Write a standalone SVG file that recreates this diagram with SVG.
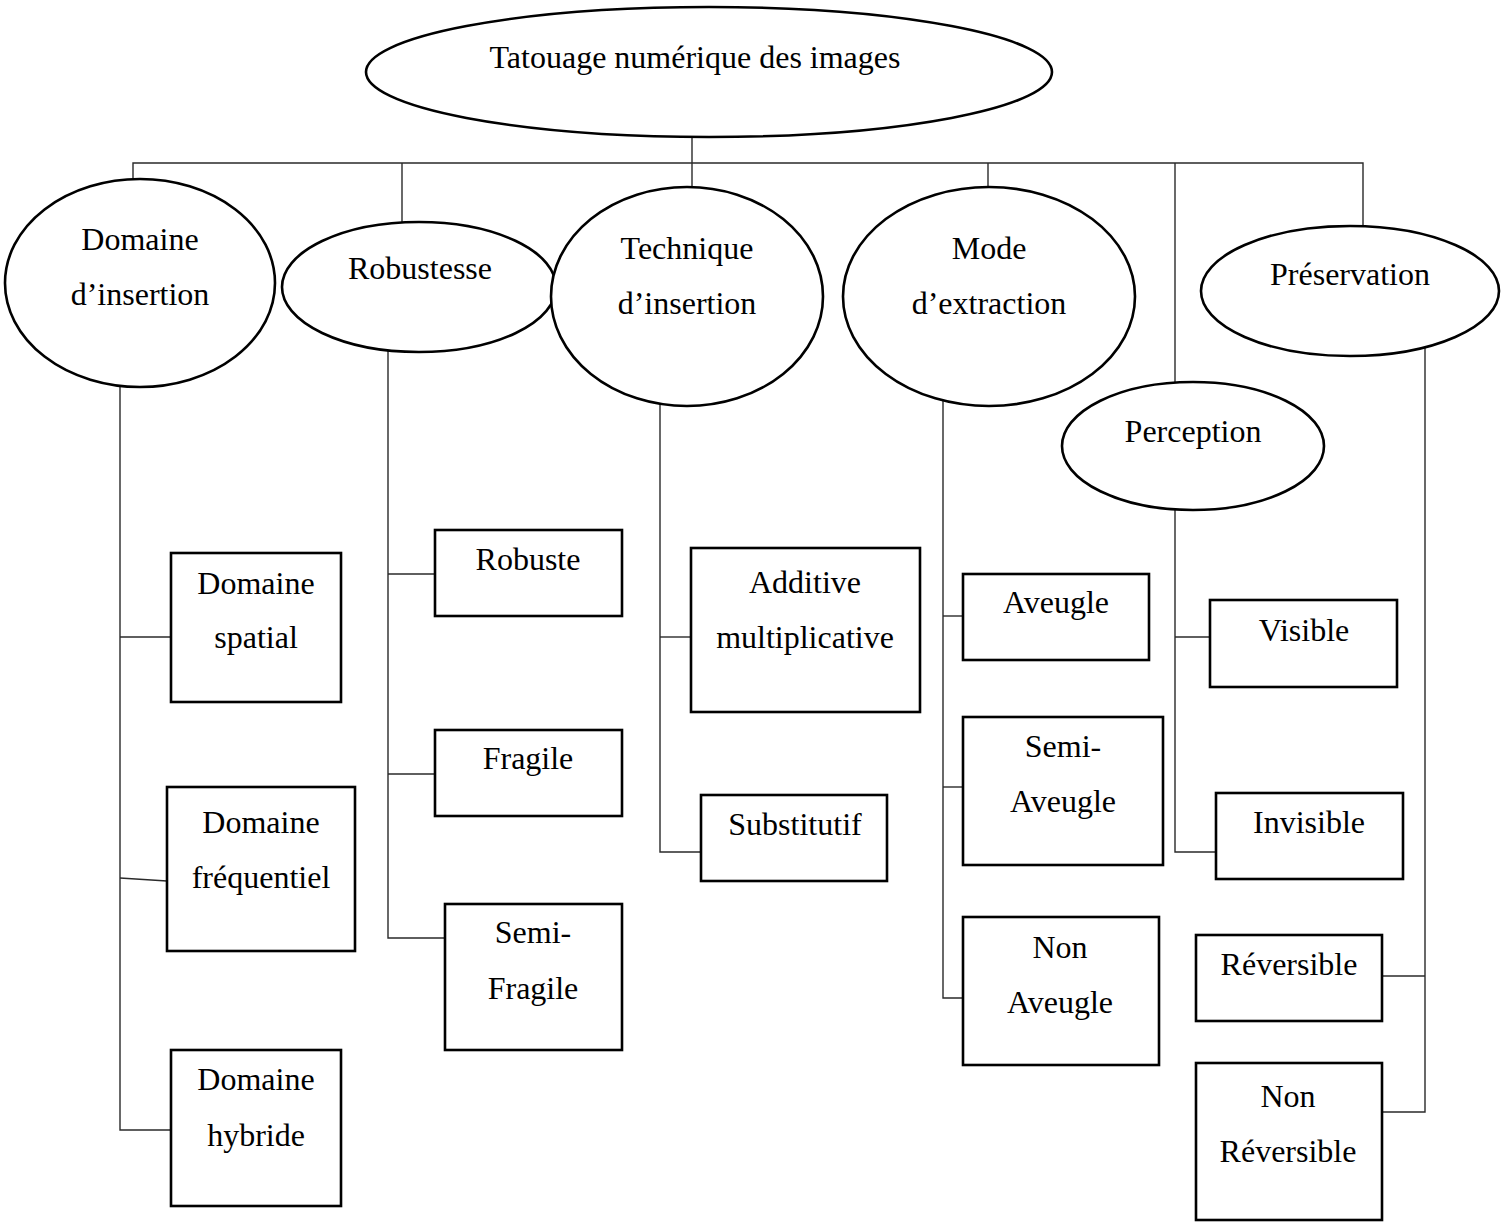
<svg xmlns="http://www.w3.org/2000/svg" width="1510" height="1222" viewBox="0 0 1510 1222">
  <style>
    .shape { fill: #ffffff; stroke: #000000; stroke-width: 2.6; }
    .link { fill: none; stroke: #2a2a2a; stroke-width: 1.4; }
    text { font-family: "Liberation Serif", "Times New Roman", serif; font-size: 32px; fill: #000000; text-anchor: middle; }
  </style>
  <rect width="1510" height="1222" fill="#ffffff"/>

  <!-- tree connectors -->
  <g id="connectors">
    <polyline class="link" points="133,180 133,163 1363,163 1363,226"/>
    <line class="link" x1="692" y1="137" x2="692" y2="187"/>
    <line class="link" x1="402" y1="163" x2="402" y2="222"/>
    <line class="link" x1="988" y1="163" x2="988" y2="187"/>
    <line class="link" x1="1175" y1="163" x2="1175" y2="382"/>

    <!-- Domaine d'insertion branch -->
    <polyline class="link" points="120,387 120,1130 171,1130"/>
    <line class="link" x1="120" y1="637" x2="171" y2="637"/>
    <line class="link" x1="120" y1="878" x2="167" y2="881"/>

    <!-- Robustesse branch -->
    <polyline class="link" points="388,350 388,938 445,938"/>
    <line class="link" x1="388" y1="574" x2="435" y2="574"/>
    <line class="link" x1="388" y1="774" x2="435" y2="774"/>

    <!-- Technique d'insertion branch -->
    <polyline class="link" points="660,404 660,852 701,852"/>
    <line class="link" x1="660" y1="637" x2="691" y2="637"/>

    <!-- Mode d'extraction branch -->
    <polyline class="link" points="943,400 943,998 963,998"/>
    <line class="link" x1="943" y1="616" x2="963" y2="616"/>
    <line class="link" x1="943" y1="787" x2="963" y2="787"/>

    <!-- Perception branch -->
    <polyline class="link" points="1175,509 1175,852 1216,852"/>
    <line class="link" x1="1175" y1="637" x2="1210" y2="637"/>

    <!-- Préservation branch -->
    <polyline class="link" points="1425,347 1425,1112 1382,1112"/>
    <line class="link" x1="1382" y1="976" x2="1425" y2="976"/>
  </g>

  <!-- root -->
  <g id="root">
    <ellipse class="shape" cx="709" cy="72" rx="343" ry="65"/>
    <text x="695" y="68">Tatouage numérique des images</text>
  </g>

  <!-- criteria -->
  <g id="domaine-insertion">
    <ellipse class="shape" cx="140" cy="283" rx="135" ry="104"/>
    <text x="140" y="250">Domaine</text>
    <text x="140" y="305">d’insertion</text>
  </g>
  <g id="robustesse">
    <ellipse class="shape" cx="419" cy="287" rx="137" ry="65"/>
    <text x="420" y="279">Robustesse</text>
  </g>
  <g id="technique-insertion">
    <ellipse class="shape" cx="687" cy="296.5" rx="136" ry="109.5"/>
    <text x="687" y="259">Technique</text>
    <text x="687" y="314">d’insertion</text>
  </g>
  <g id="mode-extraction">
    <ellipse class="shape" cx="989" cy="296.5" rx="146" ry="109.5"/>
    <text x="989" y="259">Mode</text>
    <text x="989" y="314">d’extraction</text>
  </g>
  <g id="perception">
    <ellipse class="shape" cx="1193" cy="446" rx="131" ry="64"/>
    <text x="1193" y="442">Perception</text>
  </g>
  <g id="preservation">
    <ellipse class="shape" cx="1350" cy="291" rx="149" ry="65"/>
    <text x="1350" y="285">Préservation</text>
  </g>

  <!-- Domaine d'insertion leaves -->
  <g id="domaine-spatial">
    <rect class="shape" x="171" y="553" width="170" height="149"/>
    <text x="256" y="594">Domaine</text>
    <text x="256" y="648">spatial</text>
  </g>
  <g id="domaine-frequentiel">
    <rect class="shape" x="167" y="787" width="188" height="164"/>
    <text x="261" y="833">Domaine</text>
    <text x="261" y="888">fréquentiel</text>
  </g>
  <g id="domaine-hybride">
    <rect class="shape" x="171" y="1050" width="170" height="156"/>
    <text x="256" y="1090">Domaine</text>
    <text x="256" y="1146">hybride</text>
  </g>

  <!-- Robustesse leaves -->
  <g id="robuste">
    <rect class="shape" x="435" y="530" width="187" height="86"/>
    <text x="528" y="570">Robuste</text>
  </g>
  <g id="fragile">
    <rect class="shape" x="435" y="730" width="187" height="86"/>
    <text x="528" y="769">Fragile</text>
  </g>
  <g id="semi-fragile">
    <rect class="shape" x="445" y="904" width="177" height="146"/>
    <text x="533" y="943">Semi-</text>
    <text x="533" y="999">Fragile</text>
  </g>

  <!-- Technique d'insertion leaves -->
  <g id="additive-multiplicative">
    <rect class="shape" x="691" y="548" width="229" height="164"/>
    <text x="805" y="593">Additive</text>
    <text x="805" y="648">multiplicative</text>
  </g>
  <g id="substitutif">
    <rect class="shape" x="701" y="795" width="186" height="86"/>
    <text x="795" y="835">Substitutif</text>
  </g>

  <!-- Mode d'extraction leaves -->
  <g id="aveugle">
    <rect class="shape" x="963" y="574" width="186" height="86"/>
    <text x="1056" y="613">Aveugle</text>
  </g>
  <g id="semi-aveugle">
    <rect class="shape" x="963" y="717" width="200" height="148"/>
    <text x="1063" y="757">Semi-</text>
    <text x="1063" y="812">Aveugle</text>
  </g>
  <g id="non-aveugle">
    <rect class="shape" x="963" y="917" width="196" height="148"/>
    <text x="1060" y="958">Non</text>
    <text x="1060" y="1013">Aveugle</text>
  </g>

  <!-- Perception leaves -->
  <g id="visible">
    <rect class="shape" x="1210" y="600" width="187" height="87"/>
    <text x="1304" y="641">Visible</text>
  </g>
  <g id="invisible">
    <rect class="shape" x="1216" y="793" width="187" height="86"/>
    <text x="1309" y="833">Invisible</text>
  </g>

  <!-- Préservation leaves -->
  <g id="reversible">
    <rect class="shape" x="1196" y="935" width="186" height="86"/>
    <text x="1289" y="975">Réversible</text>
  </g>
  <g id="non-reversible">
    <rect class="shape" x="1196" y="1063" width="186" height="157"/>
    <text x="1288" y="1107">Non</text>
    <text x="1288" y="1162">Réversible</text>
  </g>
</svg>
